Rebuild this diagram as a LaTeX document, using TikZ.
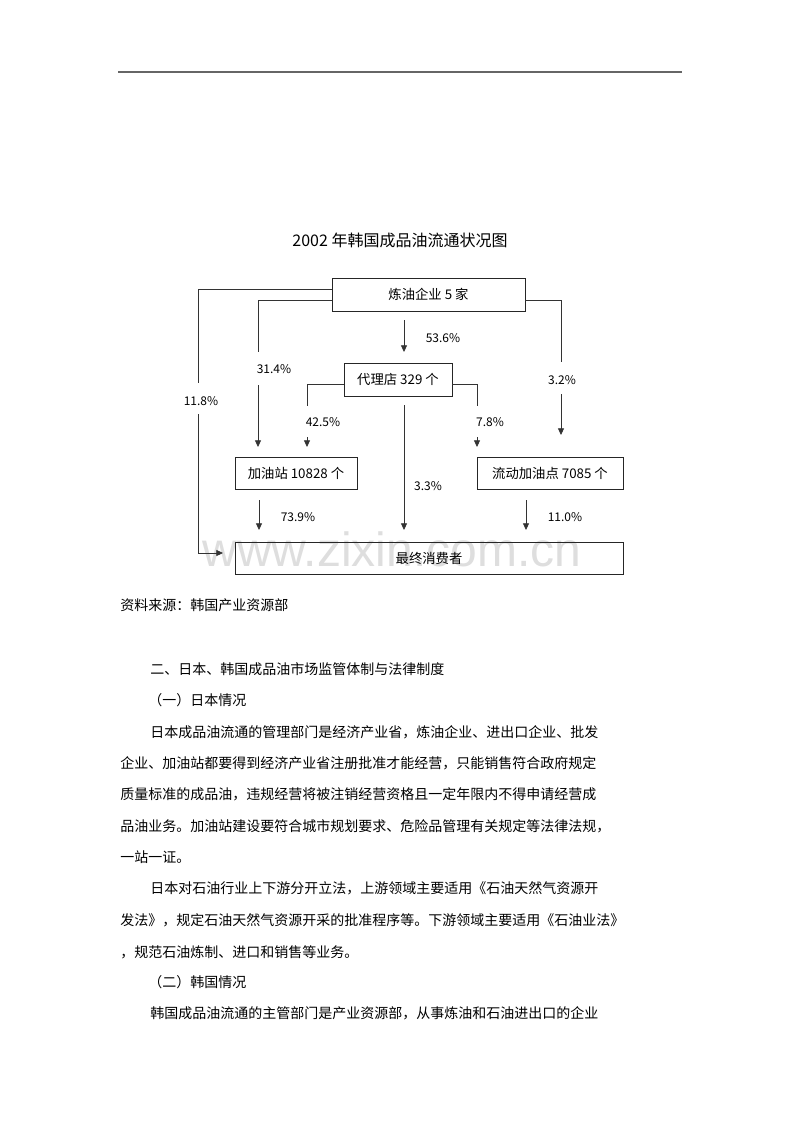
\documentclass[tikz,border=0pt]{standalone}
\usepackage{fontspec}
\setmainfont{Noto Sans CJK SC}
\newfontfamily\wmfont{Liberation Sans}
\usetikzlibrary{arrows.meta}
\definecolor{rulegray}{HTML}{666666}
\definecolor{wmgray}{HTML}{DEDEDE}
\tikzset{
  box/.style={draw=black!85, line width=0.6pt, inner sep=0pt, font=\fontsize{10}{12}\selectfont},
  conn/.style={draw=black!80, line width=0.6pt},
  arr/.style={conn, -{Triangle[width=4.5pt,length=5pt]}},
  pct/.style={inner sep=0pt, font=\fontsize{9}{11}\selectfont},
  body/.style={anchor=west, inner sep=0pt, font=\fontsize{10.5}{12}\selectfont},
}
\begin{document}
\begin{tikzpicture}[x=0.75pt,y=-0.75pt]
\fill[white] (0,0) rectangle (800,1132);
\useasboundingbox (0,0) rectangle (800,1132);

% header rule
\coordinate (hrL) at (118,72);
\coordinate (hrR) at (682,72);
\draw[rulegray, line width=1.5pt] (hrL) -- (hrR);

% title
\node[inner sep=0pt, font=\fontsize{12}{14}\selectfont] (title) at (400,240) {2002 年韩国成品油流通状况图};

% watermark
\node[anchor=base, inner sep=0pt, text=wmgray, font=\wmfont\fontsize{36}{36}\selectfont] (wm) at (392,566) {www.zixin.com.cn};

% boxes
\node[box, minimum width=144.75pt, minimum height=24.75pt] (ref) at (428.5,294.5) {炼油企业 5 家};
\node[box, minimum width=81pt, minimum height=24.75pt] (agent) at (398,379.5) {代理店 329 个};
\node[box, minimum width=91.5pt, minimum height=24pt] (gas) at (296,473) {加油站 10828 个};
\node[box, minimum width=109.5pt, minimum height=24pt] (mob) at (550,473) {流动加油点 7085 个};
\node[box, minimum width=291pt, minimum height=24pt] (cons) at (429,558) {最终消费者\hspace{34pt}};

% percentage labels
\node[pct] (p118) at (201,401) {11.8\%};
\node[pct] (p314) at (274,369) {31.4\%};
\node[pct] (p536) at (443,338) {53.6\%};
\node[pct] (p32)  at (562,380) {3.2\%};
\node[pct] (p425) at (323,422) {42.5\%};
\node[pct] (p78)  at (490,422) {7.8\%};
\node[pct] (p33)  at (428,486) {3.3\%};
\node[pct] (p739) at (298,517) {73.9\%};
\node[pct] (p110) at (565,517) {11.0\%};

% connector coordinates
\coordinate (a1) at (198,383);
\coordinate (a2) at (198,414);
\coordinate (a3) at (223,553);
\coordinate (b1) at (258,352);
\coordinate (b2) at (258,385);
\coordinate (b3) at (258,447);
\coordinate (c1) at (404,320);
\coordinate (c2) at (404,352);
\coordinate (d1) at (561,362);
\coordinate (d2) at (561,394);
\coordinate (d3) at (561,435);
\coordinate (e1) at (307,406);
\coordinate (e2) at (307,437);
\coordinate (e3) at (307,447);
\coordinate (f1) at (477,406);
\coordinate (f2) at (477,437);
\coordinate (f3) at (477,447);
\coordinate (g1) at (404,405);
\coordinate (g2) at (404,530);
\coordinate (h1) at (259,500);
\coordinate (h2) at (259,530);
\coordinate (i1) at (526,500);
\coordinate (i2) at (526,530);

% refinery -> consumers (11.8%)
\draw[conn] (ref.west |- 0,289) -| (a1);
\draw[arr] (a2) |- (a3);
% refinery -> gas stations (31.4%)
\draw[conn] (ref.west |- 0,300) -| (b1);
\draw[arr] (b2) -- (b3);
% refinery -> agents (53.6%)
\draw[arr] (c1) -- (c2);
% refinery -> mobile (3.2%)
\draw[conn] (ref.east |- 0,300) -| (d1);
\draw[arr] (d2) -- (d3);
% agents -> gas stations (42.5%)
\draw[conn] (agent.west |- 0,384) -| (e1);
\draw[arr] (e2) -- (e3);
% agents -> mobile (7.8%)
\draw[conn] (agent.east |- 0,384) -| (f1);
\draw[arr] (f2) -- (f3);
% agents -> consumers (3.3%)
\draw[arr] (g1) -- (g2);
% gas -> consumers (73.9%)
\draw[arr] (h1) -- (h2);
% mobile -> consumers (11.0%)
\draw[arr] (i1) -- (i2);

% body text
\node[body] (src) at (120,605) {资料来源：韩国产业资源部};
\node[body] (s2) at (150,669) {二、日本、韩国成品油市场监管体制与法律制度};
\node[body] (s21) at (148,700) {（一）日本情况};
\node[body] (t1) at (150,732) {日本成品油流通的管理部门是经济产业省，炼油企业、进出口企业、批发};
\node[body] (t2) at (120,763) {企业、加油站都要得到经济产业省注册批准才能经营，只能销售符合政府规定};
\node[body] (t3) at (120,794) {质量标准的成品油，违规经营将被注销经营资格且一定年限内不得申请经营成};
\node[body] (t4) at (120,826) {品油业务。加油站建设要符合城市规划要求、危险品管理有关规定等法律法规，};
\node[body] (t5) at (120,857) {一站一证。};
\node[body] (t6) at (150,888) {日本对石油行业上下游分开立法，上游领域主要适用《石油天然气资源开};
\node[body] (t7) at (120,920) {发法》，规定石油天然气资源开采的批准程序等。下游领域主要适用《石油业法》};
\node[body] (t8) at (120,952) {，规范石油炼制、进口和销售等业务。};
\node[body] (s22) at (148,982) {（二）韩国情况};
\node[body] (t9) at (150,1013) {韩国成品油流通的主管部门是产业资源部，从事炼油和石油进出口的企业};
\end{tikzpicture}
\end{document}
